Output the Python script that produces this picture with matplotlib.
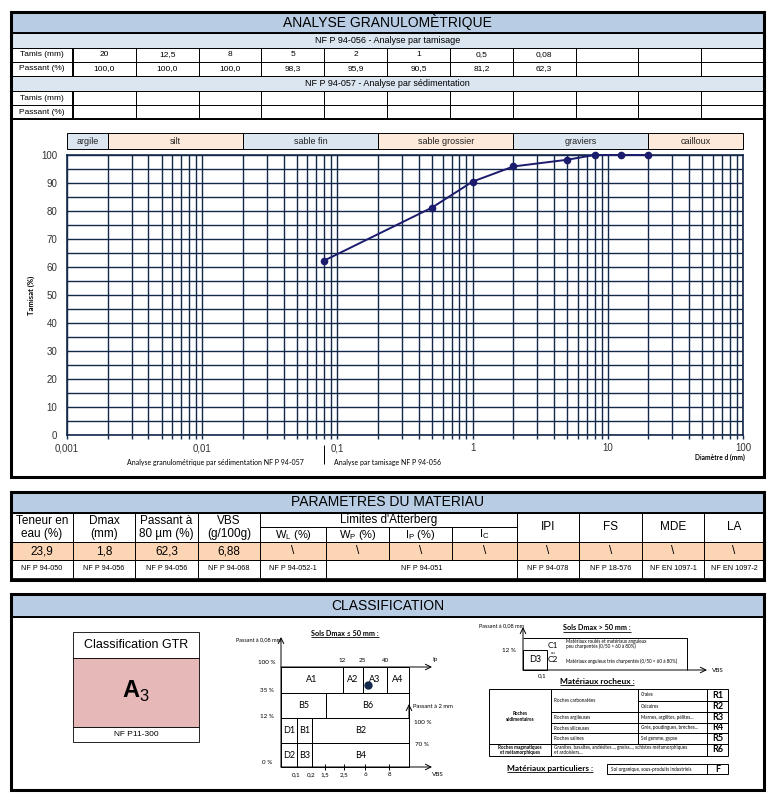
import matplotlib
matplotlib.use("Agg")
import matplotlib.pyplot as plt
from matplotlib.patches import Rectangle
from matplotlib.ticker import LogLocator, NullFormatter

plt.rcParams['font.family'] = ['Liberation Sans', 'DejaVu Sans']
plt.rcParams['mathtext.fontset'] = 'custom'
plt.rcParams['mathtext.rm'] = 'Liberation Sans'
plt.rcParams['mathtext.bf'] = 'Liberation Sans:bold'

W, H = 773, 801

# --- analyse granulometrique (tamisage)
tamis = [20, 12.5, 8, 5, 2, 1, 0.5, 0.08]
tamis_lbl = ["20", "12,5", "8", "5", "2", "1", "0,5", "0,08"]
passant = [100.0, 100.0, 100.0, 98.3, 95.9, 90.5, 81.2, 62.3]

zones = ["argile", "silt", "sable fin", "sable grossier", "graviers", "cailloux"]
zone_bounds = [0.001, 0.002, 0.02, 0.2, 2, 20, 100]
zone_colors = ["#dce6f1", "#fdeada", "#dce6f1", "#fdeada", "#dce6f1", "#fdeada"]

x_ticks = [0.001, 0.01, 0.1, 1, 10, 100]
x_tick_lbl = ["0,001", "0,01", "0,1", "1", "10", "100"]

# --- parametres du materiau
param_heads = ["Teneur en\neau (%)", "Dmax\n(mm)", "Passant à\n80 µm (%)", "VBS\n(g/100g)"]
atter_heads = ["W$_\\mathrm{L}$ (%)", "W$_\\mathrm{P}$ (%)", "I$_\\mathrm{P}$ (%)", "I$_\\mathrm{C}$"]
other_heads = ["IPI", "FS", "MDE", "LA"]
param_vals = ["23,9", "1,8", "62,3", "6,88", "\\", "\\", "\\", "\\", "\\", "\\", "\\", "\\"]
param_norms = ["NF P 94-050", "NF P 94-056", "NF P 94-056", "NF P 94-068", "NF P 94-052-1",
               "NF P 94-051", "NF P 94-078", "NF P 18-576", "NF EN 1097-1", "NF EN 1097-2"]

# --- classification
gtr_class = "A3"
vbs_ticks = ["0,1", "0,2", "1,5", "2,5", "6", "8"]
ip_ticks = ["12", "25", "40"]
pass_lbl = ["100 %", "35 %", "12 %", "0 %"]
rocheux_r = ["R1", "R2", "R3", "R4", "R5", "R6"]
rocheux_c3 = ["Craies", "Calcaires", "Marnes, argilites, pélites...",
              "Grès, poudingues, brèches...", "Sel gemme, gypse"]
rocheux_c2 = ["Roches carbonatées", "Roches argileuses", "Roches siliceuses", "Roches salines"]

navy = "#14284b"
curve_c = "#1c1c6e"

fig = plt.figure(figsize=(W / 100, H / 100), dpi=100)
bg = fig.add_axes([0, 0, 1, 1])
bg.set_xlim(0, W)
bg.set_ylim(H, 0)
bg.axis('off')


def box(x0, y0, x1, y1, fc='none', lw=0.6, ec='black', z=1):
    bg.add_patch(Rectangle((x0, y0), x1 - x0, y1 - y0, fc=fc, ec=ec, lw=lw, zorder=z))


def ln(xs, ys, lw=0.6, c='black', z=2):
    bg.plot(xs, ys, color=c, lw=lw, zorder=z, solid_capstyle='butt')


def t(x, y, s, size=7, ha='center', va='center', **kw):
    return bg.text(x, y, s, fontsize=size, ha=ha, va=va, zorder=5, **kw)


def arrow(x0, y0, x1, y1):
    bg.annotate('', xy=(x1, y1), xytext=(x0, y0),
                arrowprops=dict(arrowstyle='->', lw=0.7, color='black', shrinkA=0, shrinkB=0))


def underline_text(x, y, s, size, **kw):
    tx = t(x, y, s, size, weight='bold', family=['Lato', 'DejaVu Sans'], **kw)
    fig.canvas.draw()
    bb = tx.get_window_extent().transformed(bg.transData.inverted())
    ln([bb.x0, bb.x1], [bb.y0 + 0.5, bb.y0 + 0.5], lw=0.6)


L, R = 11, 764
cal = ['Lato', 'DejaVu Sans']

# ================= SECTION 1 =================
box(L, 12, R, 33, fc='#b8cce4')
t((L + R) / 2, 22.5, "ANALYSE GRANULOMÈTRIQUE", 10)
box(L, 33, R, 48, fc='#dce6f1')
t((L + R) / 2, 40.5, "NF P 94-056 - Analyse par tamisage", 6.5)
box(L, 76, R, 91, fc='#dce6f1')
t((L + R) / 2, 83.5, "NF P 94-057 - Analyse par sédimentation", 6.5)

c0 = 73
cw = (R - c0) / 11
for (y0, y1, lab) in [(48, 62, "Tamis (mm)"), (62, 76, "Passant (%)"),
                      (91, 105, "Tamis (mm)"), (105, 119, "Passant (%)")]:
    box(L, y0, c0, y1)
    t((L + c0) / 2, (y0 + y1) / 2, lab, 6)
    for i in range(11):
        box(c0 + i * cw, y0, c0 + (i + 1) * cw, y1)
ln([c0, c0], [48, 76], lw=1.4)
ln([c0, c0], [91, 119], lw=1.4)
ln([L, R], [119, 119], lw=1.4)
ln([L, R], [33, 33], lw=1.4)
for i, s in enumerate(tamis_lbl):
    t(c0 + (i + 0.5) * cw, 55, s, 6)
    t(c0 + (i + 0.5) * cw, 69, f"{passant[i]:.1f}".replace('.', ','), 6)
box(L, 12, R, 477, lw=2.2, z=6)

# chart
ax = fig.add_axes([67 / W, 1 - 435 / H, 676 / W, 280 / H])
ax.set_xscale('log')
ax.set_xlim(0.001, 100)
ax.set_ylim(0, 100)
ax.set_xticks(x_ticks, x_tick_lbl)
ax.xaxis.set_minor_locator(LogLocator(base=10, subs=range(2, 10)))
ax.xaxis.set_minor_formatter(NullFormatter())
ax.set_yticks(range(0, 101, 10))
ax.set_yticks(range(5, 100, 10), minor=True)
ax.grid(which='both', color=navy, lw=1.0)
ax.set_axisbelow(True)
ax.tick_params(axis='x', which='both', length=3, width=1.0, color=navy, labelsize=7, pad=3, labelcolor='#333333')
ax.tick_params(axis='y', which='both', length=0, labelsize=7, pad=7, labelcolor='#333333')
for sp in ax.spines.values():
    sp.set_color(navy)
    sp.set_linewidth(1.2)
ax.set_facecolor('none')
ax.plot(tamis, passant, color=curve_c, lw=1.4, marker='o', ms=4.5, zorder=3, clip_on=False)

trans = ax.get_xaxis_transform()
for i, name in enumerate(zones):
    a, b = zone_bounds[i], zone_bounds[i + 1]
    ax.add_patch(Rectangle((a, 1.021), b - a, 0.058, transform=trans, fc=zone_colors[i],
                           ec='black', lw=0.7, clip_on=False))
    ax.text((a * b) ** 0.5, 1.05, name, transform=trans, ha='center', va='center',
            fontsize=6.5, color='#222222')

t(31, 295, "Tamisat (%)", 5.5, rotation=90, weight='bold', family=cal)
t(215, 462, "Analyse granulométrique par sédimentation NF P 94-057", 5, family=cal)
ln([324, 324], [445, 464], lw=0.7)
t(334, 462, "Analyse par tamisage NF P 94-056", 5, ha='left', family=cal)
t(720, 457, "Diamètre d (mm)", 4.8, weight='bold', family=cal)

# ================= SECTION 2 =================
S2T, S2B = 492, 580
pe = [11, 73, 135, 198, 260, 326, 389, 452, 517, 579, 642, 704, 764]
box(L, S2T, R, 513, fc='#b8cce4')
t((L + R) / 2, 502.5, "PARAMETRES DU MATERIAU", 10)
box(L, 542, R, 560, fc='#fcd5b4')
for i in range(12):
    if i < 4 or i >= 8:
        box(pe[i], 513, pe[i + 1], 542)
    else:
        box(pe[i], 527, pe[i + 1], 542)
    box(pe[i], 542, pe[i + 1], 560)
box(pe[4], 513, pe[8], 527)
t((pe[4] + pe[8]) / 2, 520, "Limites d'Atterberg", 8.5)
for i, s in enumerate(param_heads):
    t((pe[i] + pe[i + 1]) / 2, 527.5, s, 8.5, linespacing=1.0)
for i, s in enumerate(atter_heads):
    t((pe[i + 4] + pe[i + 5]) / 2, 534.5, s, 8)
for i, s in enumerate(other_heads):
    t((pe[i + 8] + pe[i + 9]) / 2, 527.5, s, 8.5)
for i, s in enumerate(param_vals):
    t((pe[i] + pe[i + 1]) / 2, 551, s, 8.5)
norm_cells = [(0, 1), (1, 2), (2, 3), (3, 4), (4, 5), (5, 8), (8, 9), (9, 10), (10, 11), (11, 12)]
for (a, b), s in zip(norm_cells, param_norms):
    box(pe[a], 560, pe[b], 578)
    t((pe[a] + pe[b]) / 2, 569, s, 5.2)
ln([L, R], [513, 513], lw=1.4)
box(L, S2T, R, S2B, lw=2.2, z=6)

# ================= SECTION 3 =================
box(L, 594, R, 617, fc='#b8cce4')
t((L + R) / 2, 605.5, "CLASSIFICATION", 10)
ln([L, R], [617, 617], lw=1.4)

# GTR box
box(73, 632, 199, 658, fc='white')
t(136, 645, "Classification GTR", 9)
box(73, 658, 199, 727, fc='#e6b8b7')
t(136, 691, "$\\mathbf{%s}_\\mathrm{%s}$" % (gtr_class[0], gtr_class[1]), 17)
box(73, 727, 199, 742, fc='white')
t(136, 734.5, "NF P11-300", 6)

# Sols Dmax <= 50 mm
underline_text(345, 633, "Sols Dmax ≤ 50 mm :", 5.2)
t(236, 640, "Passant à 0,08 mm", 4, ha='left', family=cal)
arrow(281, 767, 281, 637)
arrow(281, 667, 432, 667)
arrow(281, 767, 432, 767)
arrow(409, 718, 409, 704)
t(432, 659, "Ip", 4.5, ha='left', family=cal)
t(432, 774, "VBS", 4.5, ha='left', family=cal)
for x, s in zip([342, 362, 386], ip_ticks):
    t(x, 660, s, 4.5, family=cal)
for y, s in zip([663, 690, 717, 763], pass_lbl):
    t(267, y, s, 4.5, family=cal)
for x, s in zip([296, 311, 325, 344, 365, 389], vbs_ticks):
    t(x, 775, s, 4.5, family=cal)
for x in [325, 344, 365, 389]:
    ln([x, x], [764, 770], lw=0.7)
t(413, 707, "Passant à 2 mm", 4.2, ha='left', family=cal)
t(414, 723, "100 %", 4.5, ha='left', family=cal)
t(415, 745, "70 %", 4.5, ha='left', family=cal)
cells1 = [(281, 667, 343, 693, "A1"), (343, 667, 363, 693, "A2"), (363, 667, 387, 693, "A3"),
          (387, 667, 409, 693, "A4"), (281, 693, 326, 718, "B5"), (326, 693, 409, 718, "B6"),
          (281, 718, 297, 743, "D1"), (297, 718, 312, 743, "B1"), (312, 718, 409, 743, "B2"),
          (281, 743, 297, 767, "D2"), (297, 743, 312, 767, "B3"), (312, 743, 409, 767, "B4")]
for (x0, y0, x1, y1, s) in cells1:
    box(x0, y0, x1, y1, lw=0.7)
    t((x0 + x1) / 2, (y0 + y1) / 2, s, 6.5, family=cal)
bg.plot([368], [685], 'o', color=navy, ms=5, zorder=7)

# Sols Dmax > 50 mm
underline_text(597, 628, "Sols Dmax > 50 mm :", 5.2)
t(502, 626, "Passant à 0,08 mm", 4, family=cal)
arrow(523, 670, 523, 627)
arrow(523, 670, 707, 670)
t(712, 671, "VBS", 4.5, ha='left', family=cal)
ln([523, 687, 687], [638, 638, 670], lw=0.7)
box(523, 650, 547, 670, lw=0.7)
t(535, 660, "D3", 6.5, family=cal)
t(509, 650, "12 %", 4.5, family=cal)
t(542, 676, "0,1", 4.5, family=cal)
t(553, 645, "C1", 6, family=cal)
t(553, 652.5, "ou", 3, family=cal)
t(553, 660, "C2", 6, family=cal)
t(566, 641, "Matériaux roulés et matériaux anguleux", 3.3, ha='left', family=cal)
t(566, 646.5, "peu charpentés (0/50 > 60 à 80%)", 3.3, ha='left', family=cal)
t(566, 661, "Matériaux anguleux très charpentés (0/50 < 60 à 80%)", 3.3, ha='left', family=cal)

underline_text(597, 681, "Matériaux rocheux :", 6)
rows = [689, 701, 712, 723, 733, 744, 756]
tx = [489, 551, 638, 707, 728]
box(tx[0], rows[0], tx[1], rows[5], lw=0.7)
t((tx[0] + tx[1]) / 2, rows[0] + (rows[5] - rows[0]) / 2, "Roches\nsédimentaires", 3.3,
  weight='bold', family=cal, linespacing=1.1)
box(tx[0], rows[5], tx[1], rows[6], lw=0.7)
t((tx[0] + tx[1]) / 2, (rows[5] + rows[6]) / 2, "Roches magmatiques\net métamorphiques", 3.3,
  weight='bold', family=cal, linespacing=1.1)
box(tx[1], rows[0], tx[2], rows[2], lw=0.7)
t(tx[1] + 3, (rows[0] + rows[2]) / 2, rocheux_c2[0], 3.3, ha='left', family=cal)
for k in range(3):
    box(tx[1], rows[k + 2], tx[2], rows[k + 3], lw=0.7)
    t(tx[1] + 3, (rows[k + 2] + rows[k + 3]) / 2, rocheux_c2[k + 1], 3.3, ha='left', family=cal)
for k in range(5):
    box(tx[2], rows[k], tx[3], rows[k + 1], lw=0.7)
    t(tx[2] + 3, (rows[k] + rows[k + 1]) / 2, rocheux_c3[k], 3.3, ha='left', family=cal)
box(tx[1], rows[5], tx[3], rows[6], lw=0.7)
t(tx[1] + 3, (rows[5] + rows[6]) / 2,
  "Granites, basaltes, andésites..., gneiss..., schistes métamorphiques\net ardoisiers...",
  3.3, ha='left', family=cal, linespacing=1.1)
for k in range(6):
    box(tx[3], rows[k], tx[4], rows[k + 1], lw=0.7)
    t((tx[3] + tx[4]) / 2, (rows[k] + rows[k + 1]) / 2, rocheux_r[k], 6.5, weight='bold', family=cal)

underline_text(550, 768, "Matériaux particuliers :", 6)
box(607, 764, 707, 774, lw=0.7)
t(611, 769, "Sol organique, sous-produits industriels", 3.3, ha='left', family=cal)
box(707, 764, 728, 774, lw=0.7)
t(717.5, 769, "F", 6.5, weight='bold', family=cal)

box(L, 594, R, 790, lw=2.2, z=6)

fig.savefig("out.png", dpi=100)
